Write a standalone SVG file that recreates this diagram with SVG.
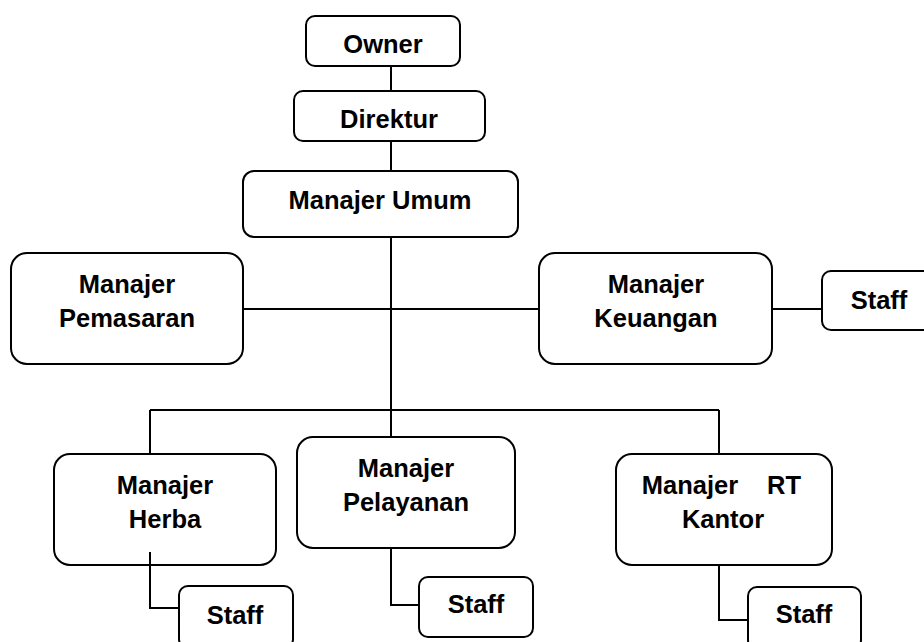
<svg xmlns="http://www.w3.org/2000/svg" width="924" height="642" viewBox="0 0 924 642">
<style>
.b{fill:#fff;stroke:#000;stroke-width:2}
.t{font-family:"Liberation Sans",Arial,sans-serif;font-weight:bold;font-size:25.5px;fill:#000;text-anchor:middle}
.c{fill:none;stroke:#000;stroke-width:2}
</style>
<rect width="924" height="642" fill="#fff"/>
<g id="owner"><rect class="b" x="306" y="16" width="154" height="50" rx="9"/><text class="t" x="383" y="53">Owner</text></g>
<g id="direktur"><rect class="b" x="294" y="91" width="191" height="50" rx="9"/><text class="t" x="389" y="128">Direktur</text></g>
<g id="manajer-umum"><rect class="b" x="243" y="171" width="275" height="66" rx="11"/><text class="t" x="380" y="209">Manajer Umum</text></g>
<g id="manajer-pemasaran"><rect class="b" x="11" y="253" width="232" height="111" rx="16"/><text class="t" x="127" y="293">Manajer</text><text class="t" x="127" y="327">Pemasaran</text></g>
<g id="manajer-keuangan"><rect class="b" x="539" y="253" width="233" height="111" rx="16"/><text class="t" x="656" y="293">Manajer</text><text class="t" x="656" y="327">Keuangan</text></g>
<g id="staff-keuangan"><rect class="b" x="822" y="271" width="114" height="59" rx="9"/><text class="t" x="879" y="309">Staff</text></g>
<g id="manajer-herba"><rect class="b" x="54" y="454" width="222" height="111" rx="16"/><text class="t" x="165" y="494">Manajer</text><text class="t" x="165" y="528">Herba</text></g>
<g id="staff-herba"><rect class="b" x="179" y="586" width="114" height="62" rx="9"/><text class="t" x="235" y="624">Staff</text></g>
<g id="manajer-pelayanan"><rect class="b" x="297" y="437" width="218" height="111" rx="16"/><text class="t" x="406" y="477">Manajer</text><text class="t" x="406" y="511">Pelayanan</text></g>
<g id="staff-pelayanan"><rect class="b" x="419" y="577" width="114" height="60" rx="9"/><text class="t" x="476" y="613">Staff</text></g>
<g id="manajer-rt-kantor"><rect class="b" x="616" y="454" width="216" height="111" rx="16"/><text class="t" x="690" y="494">Manajer</text><text class="t" x="784" y="494">RT</text><text class="t" x="723" y="528">Kantor</text></g>
<g id="staff-rt-kantor"><rect class="b" x="748" y="587" width="113" height="62" rx="9"/><text class="t" x="804" y="623">Staff</text></g>
<g id="connectors">
<path class="c" d="M391 66V91M391 141V171M391 237V437M243 309H539M772 309H822M150 410H719M150 410V454M719 410V454M150 552V608H179M391 548V605H419M719 565V620H748"/>
</g>
</svg>
